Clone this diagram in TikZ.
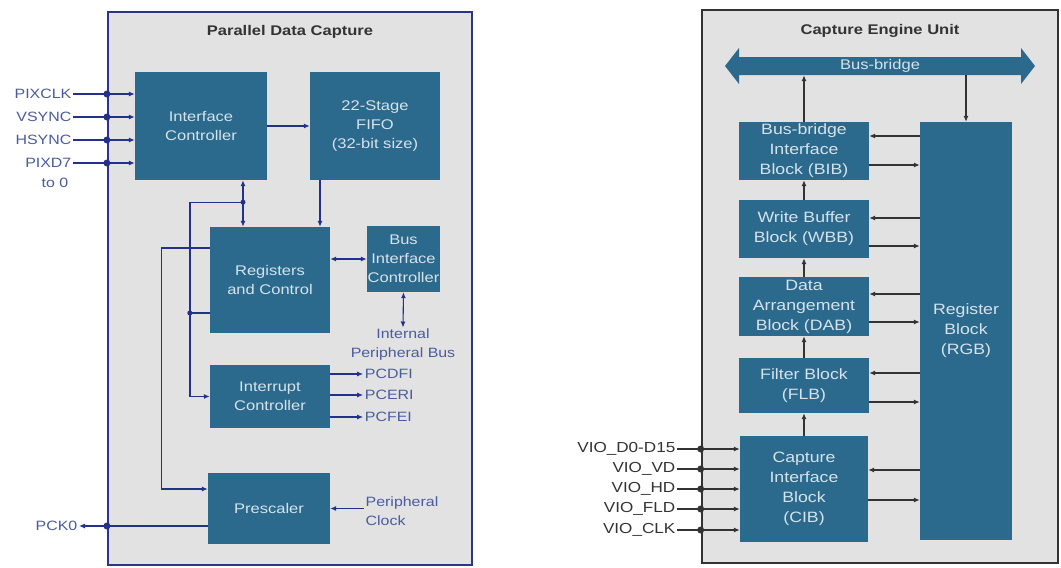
\documentclass[tikz,border=0pt]{standalone}
\usepackage{fontspec}
\setmainfont{Liberation Sans}
\newfontfamily\wf[FakeStretch=1.18]{Liberation Sans}
\usetikzlibrary{arrows.meta,calc}
\definecolor{panel}{HTML}{E2E2E2}
\definecolor{blk}{HTML}{2C6A8D}
\definecolor{btxt}{HTML}{D5E3EC}
\definecolor{navy}{HTML}{24318A}
\definecolor{navyb}{HTML}{2A3585}
\definecolor{navytxt}{HTML}{4A5C9E}
\definecolor{dk}{HTML}{333333}
\begin{document}
\begin{tikzpicture}[x=1pt,y=-1pt,
  lineL/.style={draw=navy, line width=1.1pt},
  lineR/.style={draw=dk, line width=1.1pt},
  arr/.style={-{Latex[length=6pt,width=5pt]}},
  arr2/.style={{Latex[length=6pt,width=5pt]}-{Latex[length=6pt,width=5pt]}},
  blkL/.style={fill=blk, text=btxt, align=center, inner sep=0pt, font=\wf\fontsize{14}{19}\selectfont},
  blkR/.style={fill=blk, text=btxt, align=center, inner sep=0pt, font=\wf\fontsize{15}{20}\selectfont},
  pinL/.style={text=navytxt, inner sep=1.5pt, font=\wf\fontsize{13.5}{19}\selectfont},
  pinR/.style={text=dk, inner sep=1.5pt, font=\wf\fontsize{14.5}{20}\selectfont},
  ttl/.style={text=dk, font=\wf\bfseries\fontsize{14}{17}\selectfont}
]
\useasboundingbox (0,0) rectangle (1061,568);
\fill[white] (0,0) rectangle (1061,568);

% ---------------- Left panel ----------------
\node[draw=navyb, line width=2.2pt, fill=panel, minimum width=364pt, minimum height=553pt, inner sep=0pt] (lp) at (290,288.5) {};
\node[ttl] (t1) at (290,32) {Parallel Data Capture};

\node[blkL, minimum width=132pt, minimum height=108pt] (ic) at (201,126) {Interface\\Controller};
\node[blkL, minimum width=130pt, minimum height=108pt] (fifo) at (375,126) {22-Stage\\FIFO\\(32-bit size)};
\node[blkL, minimum width=120pt, minimum height=106pt] (rc) at (270,280) {Registers\\and Control};
\node[blkL, minimum width=73pt, minimum height=66pt] (bic) at (403.5,259) {Bus\\Interface\\Controller};
\node[blkL, minimum width=120pt, minimum height=63pt] (intc) at (270,396.5) {Interrupt\\Controller};
\node[blkL, minimum width=122pt, minimum height=71pt] (pre) at (269,508.5) {Prescaler};

\foreach \nm/\t/\y in {pclk/PIXCLK/94, vs/VSYNC/117, hs/HSYNC/140, pd/PIXD7/163}{
  \node[pinL, anchor=east] (\nm) at (73,\y) {\t};
  \draw[lineL, arr] (\nm.east) -- (\nm.east -| ic.west);
  \fill[navy] (\nm.east -| lp.west) circle (3.5pt);
}
\node[pinL] (to0) at (55,183) {to 0};

\draw[lineL, arr] (ic) -- (fifo);
\draw[lineL, arr2] ([xshift=42pt]ic.south) -- ([xshift=-27pt]rc.north);
\coordinate (j1) at ($(ic.south)+(42,22)$);
\fill[navy] (j1) circle (2.5pt);
\draw[lineL, arr] (j1) -- ++(-53,0) |- (intc.west);
\draw[lineL] ([yshift=-33pt]rc.west) -- ++(-20,0) coordinate (j2);
\fill[navy] (j2) circle (2.5pt);
\draw[lineL, arr] ([yshift=32pt]rc.west) -- ++(-48,0) |- ([yshift=19.5pt]pre.west);
\draw[lineL, arr] ([xshift=-55pt]fifo.south) -- ([xshift=50pt]rc.north);
\draw[lineL, arr2] (rc.east |- bic.west) -- (bic.west);

\node[pinL, align=center] (ipb) at (403,345) {Internal\\Peripheral Bus};
\draw[lineL, arr2] (bic.south) -- (ipb.north);

\foreach \nm/\t/\dy in {pcdfi/PCDFI/-22.5, pceri/PCERI/-1.5, pcfei/PCFEI/20.5}{
  \node[pinL, anchor=west] (\nm) at ($(intc.east)+(33,\dy)$) {\t};
  \draw[lineL, arr] (intc.east |- \nm.west) -- (\nm.west);
}

\node[pinL, anchor=west, align=left] (pclkin) at (364,511) {Peripheral\\Clock};
\draw[lineL, arr] (pclkin.west |- pre.east) -- (pre.east);

\node[pinL, anchor=east] (pck) at (79,526) {PCK0};
\draw[lineL, arr] (pre.west |- pck.east) -- (pck.east);
\fill[navy] (pck.east -| lp.west) circle (3.5pt);

% ---------------- Right panel ----------------
\node[draw=dk, line width=2.6pt, fill=panel, minimum width=356pt, minimum height=553pt, inner sep=0pt] (rp) at (880,286.5) {};
\node[ttl] (t2) at (880,31) {Capture Engine Unit};

\fill[blk] (725,66) -- (739,48) -- (739,57) -- (1021,57) -- (1021,48) -- (1035,66)
  -- (1021,84) -- (1021,75) -- (739,75) -- (739,84) -- cycle;
\node[inner sep=0pt, minimum width=282pt, minimum height=18pt, text=btxt, font=\wf\fontsize{14}{17}\selectfont] (bus) at (880,66) {Bus-bridge};

\node[blkR, minimum width=130pt, minimum height=58pt] (bib) at (804,151) {Bus-bridge\\Interface\\Block (BIB)};
\node[blkR, minimum width=130pt, minimum height=58pt] (wbb) at (804,229) {Write Buffer\\Block (WBB)};
\node[blkR, minimum width=130pt, minimum height=59pt] (dab) at (804,306.5) {Data\\Arrangement\\Block (DAB)};
\node[blkR, minimum width=130pt, minimum height=55pt] (flb) at (804,385.5) {Filter Block\\(FLB)};
\node[blkR, minimum width=128pt, minimum height=106pt] (cib) at (804,489) {Capture\\Interface\\Block\\(CIB)};
\node[blkR, minimum width=92pt, minimum height=418pt] (rgb) at (966,331) {Register\\Block\\(RGB)};

\draw[lineR, arr] (cib.north) -- (flb.south);
\draw[lineR, arr] (flb.north) -- (dab.south);
\draw[lineR, arr] (dab.north) -- (wbb.south);
\draw[lineR, arr] (wbb.north) -- (bib.south);
\draw[lineR, arr] (bib.north) -- (bib.north |- bus.south);
\draw[lineR, arr] (bus.south -| rgb.north) -- (rgb.north);

\foreach \b/\u/\d in {bib/-15/14, wbb/-11/17, dab/-12.5/15.5, flb/-12.5/16.5, cib/-19/11}{
  \coordinate (L) at ($(\b.east)+(0,\u)$);
  \coordinate (R) at ($(\b.east)+(0,\d)$);
  \draw[lineR, arr] (L -| rgb.west) -- (L);
  \draw[lineR, arr] (R) -- (R -| rgb.west);
}

\foreach \nm/\t/\y in {va/VIO\_D0-D15/449, vb/VIO\_VD/469, vc/VIO\_HD/489, vd/VIO\_FLD/509, ve/VIO\_CLK/530}{
  \node[pinR, anchor=east] (\nm) at (677,\y) {\t};
  \draw[lineR, arr] (\nm.east) -- (\nm.east -| cib.west);
  \fill[dk] (\nm.east -| rp.west) circle (3.5pt);
}
\end{tikzpicture}
\end{document}
